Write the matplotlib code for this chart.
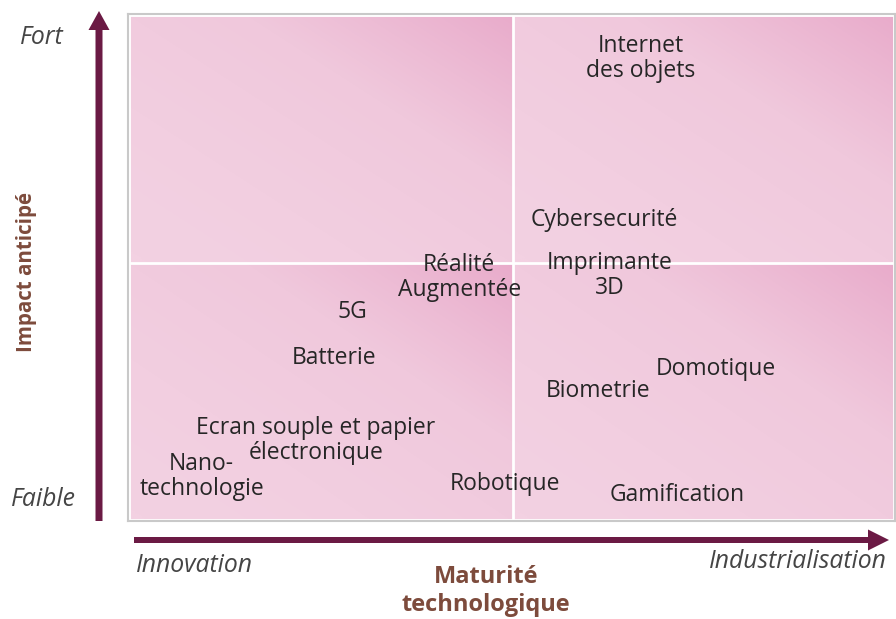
import numpy as np
import matplotlib
matplotlib.use("Agg")
import matplotlib.pyplot as plt
from matplotlib.patches import FancyArrow, Rectangle
from matplotlib.colors import LinearSegmentedColormap

# ---- data ----
technologies = ["Internet\ndes objets", "Cybersecurité", "Imprimante\n3D", "Réalité\nAugmentée",
                "5G", "Batterie", "Domotique", "Biometrie",
                "Ecran souple et papier\nélectronique", "Nano-\ntechnologie", "Robotique", "Gamification"]
maturity = [6.68, 6.21, 6.28, 4.32, 2.93, 2.69, 7.67, 6.13, 2.45, 0.96, 4.92, 7.16]
impact = [9.12, 5.93, 4.85, 4.81, 4.12, 3.21, 3.00, 2.56, 1.58, 0.88, 0.73, 0.51]
x_split = 5.02
y_split = 5.09
x_ends = ["Innovation", "Industrialisation"]
y_ends = ["Faible", "Fort"]
x_title = "Maturité\ntechnologique"
y_title = "Impact anticipé"

W, H = 896, 619
fig = plt.figure(figsize=(W / 100, H / 100), dpi=100)
fig.patch.set_facecolor("white")

LBL = "Open Sans"
ARROW = "#6b1a44"
BROWN = "#7d4b3c"
GREY = "#454545"

# quadrant axes
ax = fig.add_axes([128 / W, 1 - 521 / H, (895 - 128) / W, (521 - 14) / H])
ax.set_xlim(0, 10)
ax.set_ylim(0, 10)
cmap = LinearSegmentedColormap.from_list("pk", ["#f3d1e2", "#f0c8dc", "#e8a8c9"])
u = np.linspace(0, 1, 200)
U, V = np.meshgrid(u, u)
grad = ((U + V) / 2) ** 1.5
for (x0, x1) in [(0, x_split), (x_split, 10)]:
    for (y0, y1) in [(0, y_split), (y_split, 10)]:
        ax.imshow(grad, extent=[x0, x1, y0, y1], origin="lower", cmap=cmap,
                  vmin=0, vmax=1.05, aspect="auto", interpolation="bilinear", zorder=0)
ax.axvline(x_split, color="white", lw=2, zorder=1)
ax.axhline(y_split, color="white", lw=2, zorder=1)
ax.add_patch(Rectangle((0, 0), 1, 1, transform=ax.transAxes, fill=False,
                       edgecolor="white", lw=3.5, zorder=2))
ax.set_xticks([])
ax.set_yticks([])
for s in ax.spines.values():
    s.set_color("#c9c9c9")
    s.set_linewidth(1.5)
    s.set_zorder(2.5)

LINE_GAP = 25  # pixels between lines of a label
for name, mx, my in zip(technologies, maturity, impact):
    lines = name.split("\n")
    n = len(lines)
    for i, line in enumerate(lines):
        dy = ((n - 1) / 2 - i) * LINE_GAP
        ax.annotate(line, xy=(mx, my), xytext=(0, dy), textcoords="offset pixels",
                    ha="center", va="center", fontsize=16.5, family=LBL,
                    color="#262626", zorder=3)

# overlay for arrows and axis captions (pixel coordinates)
ov = fig.add_axes([0, 0, 1, 1], facecolor="none")
ov.set_xlim(0, W)
ov.set_ylim(H, 0)
ov.axis("off")
ov.add_patch(FancyArrow(99, 521, 0, -510, width=7, head_width=21, head_length=19,
                        length_includes_head=True, color=ARROW, lw=0))
ov.add_patch(FancyArrow(134, 540, 755, 0, width=6, head_width=21, head_length=21,
                        length_includes_head=True, color=ARROW, lw=0))

IT = 17.8
ov.text(42, 37, y_ends[1], ha="center", va="center", fontsize=IT, style="italic",
        family=LBL, color=GREY)
ov.text(43, 499, y_ends[0], ha="center", va="center", fontsize=IT, style="italic",
        family=LBL, color=GREY)
ov.text(194, 566, x_ends[0], ha="center", va="center", fontsize=IT, style="italic",
        family=LBL, color=GREY)
ov.text(798, 562, x_ends[1], ha="center", va="center", fontsize=IT, style="italic",
        family=LBL, color=GREY)
ov.text(27, 272, y_title, ha="center", va="center", rotation=90, fontsize=14.8,
        fontweight="bold", family=LBL, color=BROWN)
ov.text(486, 591, x_title, ha="center", va="center", multialignment="center",
        fontsize=17, fontweight="bold", family=LBL, color=BROWN, linespacing=1.18)

fig.savefig("out.png", dpi=100, facecolor="white")
